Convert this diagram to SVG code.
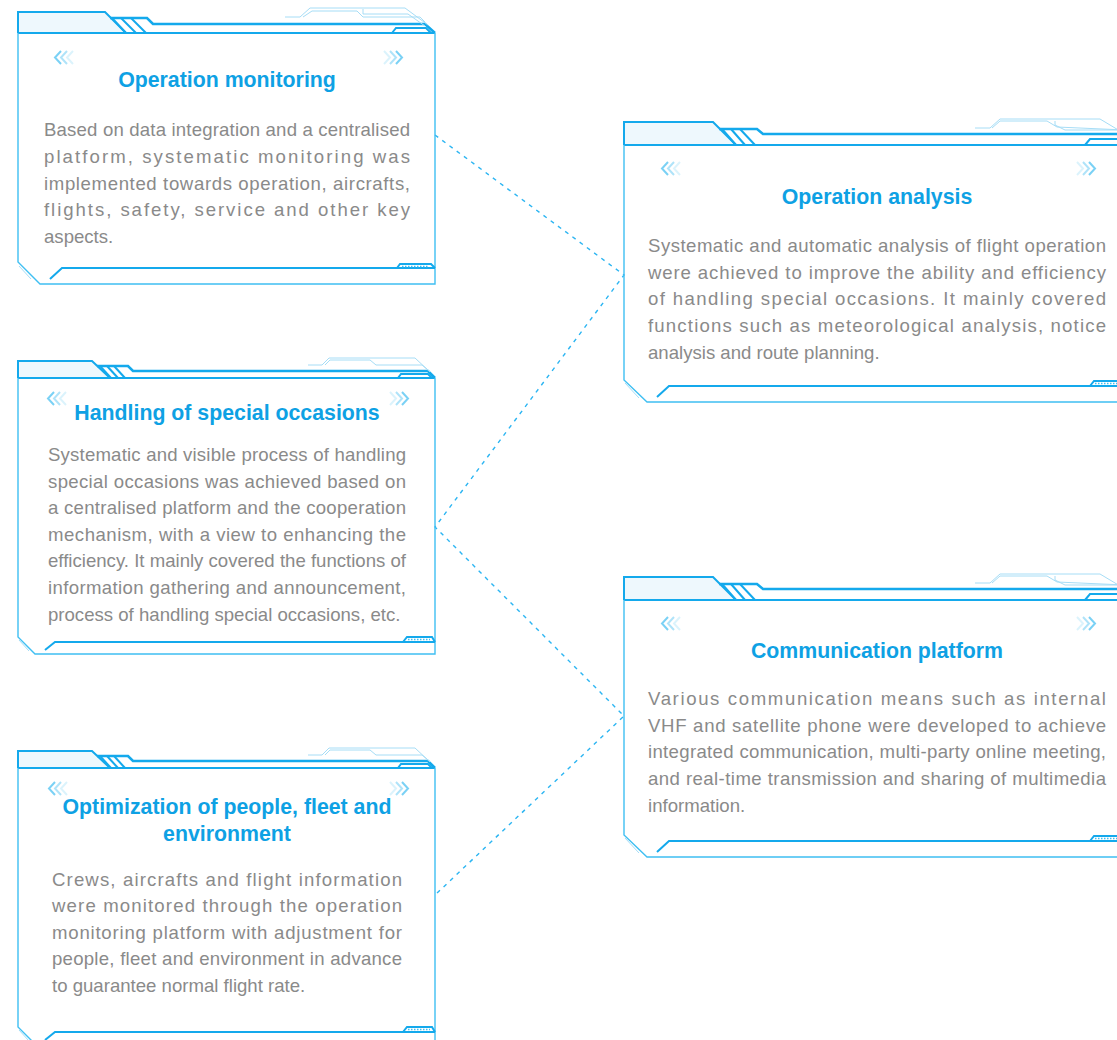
<svg xmlns="http://www.w3.org/2000/svg" xmlns:xlink="http://www.w3.org/1999/xlink" width="1117" height="1040" viewBox="0 0 1117 1040">
<style>
.ln{fill:none;stroke:#14a9ec;stroke-width:2}
.lk{fill:none;stroke:#14a9ec;stroke-width:2.6}
.lt{fill:none;stroke:#3fbff2;stroke-width:1.4}
.fa{fill:none;stroke:#a6ddf6;stroke-width:1}
.tab{fill:#eef8fd}
.dots{fill:none;stroke:#3fbff2;stroke-width:1.5;stroke-dasharray:1.5 1.5}
.chev polyline{fill:none;stroke:#4dc1f2;stroke-width:2}
.title{font-family:"Liberation Sans",Arial,sans-serif;font-weight:bold;font-size:21.3px;fill:#0ea1e4;text-anchor:middle}
.body{font-family:"Liberation Sans",Arial,sans-serif;font-size:18.6px;fill:#8a8a8a}
.conn{fill:none;stroke:#2cb5f2;stroke-width:1.4;stroke-dasharray:4 5}
</style>
<defs>
<g id="chevL" class="chev"><polyline points="6,0 0,6.5 6,13" opacity=".75"/><polyline points="12,0 6,6.5 12,13" opacity=".45"/><polyline points="18,0 12,6.5 18,13" opacity=".2"/></g>
<g id="chevR" class="chev"><polyline points="12,0 18,6.5 12,13" opacity=".75"/><polyline points="6,0 12,6.5 6,13" opacity=".45"/><polyline points="0,0 6,6.5 0,13" opacity=".2"/></g>
<g id="frameS">
<polygon class="tab" points="18,0 92,0 110,17 18,17"/>
<polyline class="ln" points="18,17 18,0 92,0 110,17"/>
<polyline class="lk" points="97,5 128,5 133,10 428,10 435,17"/>
<line class="ln" x1="100" y1="5" x2="111" y2="17"/><line class="ln" x1="107" y1="5" x2="118" y2="17"/><line class="ln" x1="114" y1="5" x2="125" y2="17"/>
<line class="ln" x1="18" y1="17" x2="435" y2="17"/>
<polyline class="ln" points="398,17 401,13 428,13 432,17"/>
<polyline class="fa" points="308,4 322,4 329,-3 415,-3 430,11"/>
<polyline class="fa" points="325,4 330,-1 370,-1 376,4 422,4 428,9"/>
<polyline class="lt" points="18,17 18,276 35,293 435,293 435,17"/>
<line class="fa" x1="19" y1="279" x2="29" y2="290"/>
<polyline class="ln" points="45,289 55,281 435,281"/>
<polyline class="ln" points="403,281 407,276 432,276 435,281"/>
<line class="dots" x1="408" y1="278.5" x2="430" y2="278.5"/>
</g>
<g id="frameL">
<polygon class="tab" points="624,0 713,0 736,23 624,23"/>
<polyline class="ln" points="624,23 624,0 713,0 736,23"/>
<polyline class="lk" points="719,7 757,7 763,12 1130,12"/>
<line class="ln" x1="722" y1="7" x2="736" y2="23"/><line class="ln" x1="731" y1="7" x2="745" y2="23"/><line class="ln" x1="740" y1="7" x2="755" y2="23"/>
<line class="ln" x1="624" y1="23" x2="1130" y2="23"/>
<polyline class="ln" points="1085,23 1090,17 1130,17"/>
<polyline class="fa" points="975,6 990,6 1000,-3 1100,-3 1125,12"/>
<polyline class="fa" points="992,6 1000,-1 1047,-1 1057,5 1125,8"/>
<polyline class="fa" points="1055,-1 1055,3 1065,8 1120,8"/>
<polyline class="lt" points="624,23 624,258 647,280 1130,280"/>
<line class="fa" x1="625" y1="261" x2="639" y2="276"/>
<polyline class="ln" points="657,275 669,264 1130,264"/>
<polyline class="ln" points="1090,264 1094,259 1130,259"/>
<line class="dots" x1="1095" y1="261.5" x2="1117" y2="261.5"/>
</g>
</defs>

<g id="connectors">
<polyline class="conn" points="435,135 624,275 435,527 624,716 435,895"/>
</g>

<g id="node-operation-monitoring">
<polygon class="tab" points="18,12 105,12 126,33 18,33"/>
<polyline class="ln" points="18,33 18,12 105,12 126,33"/>
<polyline class="lk" points="110,18 147,18 153,24 425,24 435,33"/>
<line class="ln" x1="112" y1="18" x2="126" y2="33"/><line class="ln" x1="121" y1="18" x2="136" y2="33"/><line class="ln" x1="131" y1="18" x2="146" y2="33"/>
<line class="ln" x1="18" y1="33" x2="435" y2="33"/>
<polyline class="ln" points="392,33 396,28 426,28 431,33"/>
<polyline class="fa" points="285,17 300,17 310,8 405,8 428,25"/>
<polyline class="fa" points="303,17 312,11 357,11 363,17 420,17 425,22"/>
<polyline class="fa" points="363,9 363,14 408,14 425,26"/>
<polyline class="lt" points="18,33 18,262 40,284 435,284 435,33"/>
<line class="fa" x1="19" y1="266" x2="31" y2="279"/>
<polyline class="ln" points="50,279 62,268 435,268"/>
<polyline class="ln" points="397,268 400,264 431,264 435,268"/>
<line class="dots" x1="402" y1="266.5" x2="429" y2="266.5"/>
<use xlink:href="#chevL" x="55" y="51"/>
<use xlink:href="#chevR" x="384" y="51"/>
<text class="title" x="227" y="87">Operation monitoring</text>
<text class="body" x="44" y="136" textLength="366" lengthAdjust="spacing">Based on data integration and a centralised</text>
<text class="body" x="44" y="163" textLength="366" lengthAdjust="spacing">platform, systematic monitoring was</text>
<text class="body" x="44" y="190" textLength="366" lengthAdjust="spacing">implemented towards operation, aircrafts,</text>
<text class="body" x="44" y="216" textLength="366" lengthAdjust="spacing">flights, safety, service and other key</text>
<text class="body" x="44" y="243">aspects.</text>
</g>

<g id="node-handling-special-occasions">
<use xlink:href="#frameS" y="361"/>
<use xlink:href="#chevL" x="48" y="392"/>
<use xlink:href="#chevR" x="390" y="392"/>
<text class="title" x="227" y="420">Handling of special occasions</text>
<text class="body" x="48" y="461" textLength="358" lengthAdjust="spacing">Systematic and visible process of handling</text>
<text class="body" x="48" y="488" textLength="358" lengthAdjust="spacing">special occasions was achieved based on</text>
<text class="body" x="48" y="514" textLength="358" lengthAdjust="spacing">a centralised platform and the cooperation</text>
<text class="body" x="48" y="541" textLength="358" lengthAdjust="spacing">mechanism, with a view to enhancing the</text>
<text class="body" x="48" y="567" textLength="358" lengthAdjust="spacing">efficiency. It mainly covered the functions of</text>
<text class="body" x="48" y="594" textLength="358" lengthAdjust="spacing">information gathering and announcement,</text>
<text class="body" x="48" y="621">process of handling special occasions, etc.</text>
</g>

<g id="node-optimization">
<use xlink:href="#frameS" y="751"/>
<use xlink:href="#chevL" x="49" y="782"/>
<use xlink:href="#chevR" x="390" y="782"/>
<text class="title" x="227" y="814">Optimization of people, fleet and</text>
<text class="title" x="227" y="841">environment</text>
<text class="body" x="52" y="886" textLength="350" lengthAdjust="spacing">Crews, aircrafts and flight information</text>
<text class="body" x="52" y="912" textLength="350" lengthAdjust="spacing">were monitored through the operation</text>
<text class="body" x="52" y="939" textLength="350" lengthAdjust="spacing">monitoring platform with adjustment for</text>
<text class="body" x="52" y="965" textLength="350" lengthAdjust="spacing">people, fleet and environment in advance</text>
<text class="body" x="52" y="992">to guarantee normal flight rate.</text>
</g>

<g id="node-operation-analysis">
<use xlink:href="#frameL" y="122"/>
<use xlink:href="#chevL" x="662" y="162"/>
<use xlink:href="#chevR" x="1077" y="162"/>
<text class="title" x="877" y="204">Operation analysis</text>
<text class="body" x="648" y="252" textLength="458" lengthAdjust="spacing">Systematic and automatic analysis of flight operation</text>
<text class="body" x="648" y="279" textLength="458" lengthAdjust="spacing">were achieved to improve the ability and efficiency</text>
<text class="body" x="648" y="305" textLength="458" lengthAdjust="spacing">of handling special occasions. It mainly covered</text>
<text class="body" x="648" y="332" textLength="458" lengthAdjust="spacing">functions such as meteorological analysis, notice</text>
<text class="body" x="648" y="359">analysis and route planning.</text>
</g>

<g id="node-communication-platform">
<use xlink:href="#frameL" y="577"/>
<use xlink:href="#chevL" x="662" y="617"/>
<use xlink:href="#chevR" x="1077" y="617"/>
<text class="title" x="877" y="658">Communication platform</text>
<text class="body" x="648" y="705" textLength="458" lengthAdjust="spacing">Various communication means such as internal</text>
<text class="body" x="648" y="732" textLength="458" lengthAdjust="spacing">VHF and satellite phone were developed to achieve</text>
<text class="body" x="648" y="758" textLength="458" lengthAdjust="spacing">integrated communication, multi-party online meeting,</text>
<text class="body" x="648" y="785" textLength="458" lengthAdjust="spacing">and real-time transmission and sharing of multimedia</text>
<text class="body" x="648" y="812">information.</text>
</g>
</svg>
